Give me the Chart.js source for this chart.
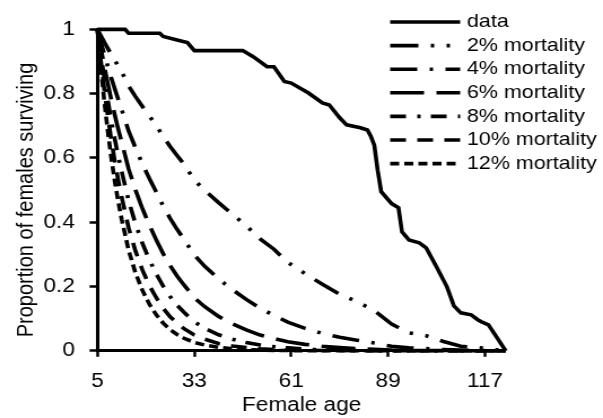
<!DOCTYPE html>
<html>
<head>
<meta charset="utf-8">
<script src="https://cdn.jsdelivr.net/npm/chart.js@4/dist/chart.umd.min.js"></script>
<style>
  html, body { margin: 0; padding: 0; background: #fff; }
</style>
</head>
<body>
<canvas id="sobrevivencia" width="534" height="418" style="display:block;width:603px;height:418px"></canvas>
<script>
const serieNomes = ["data", "2% mortality", "4% mortality", "6% mortality", "8% mortality", "10% mortality", "12% mortality"];

const xTicks = [5, 33, 61, 89, 117];
const yTicks = [0, 0.2, 0.4, 0.6, 0.8, 1];

const dataAges = [5, 13, 14, 23, 24, 28, 31, 33, 47, 50, 54, 56, 59, 61, 66, 70, 72, 75, 77, 81,
  83, 84, 85, 86, 87, 90, 92, 93, 95, 98, 100, 103, 106, 108, 110, 113, 115, 116, 118, 123];
const dataValues = [1, 1, 0.988, 0.988, 0.978, 0.967, 0.959, 0.934, 0.934, 0.915, 0.884, 0.884, 0.838, 0.833, 0.802, 0.771, 0.765, 0.725, 0.703, 0.694,
  0.687, 0.668, 0.64, 0.56, 0.495, 0.458, 0.445, 0.37, 0.345, 0.336, 0.32, 0.261, 0.199, 0.14, 0.118, 0.112, 0.096, 0.09, 0.081, 0];

const modelAges = [5, 6, 7, 8, 9, 10, 11, 12, 14, 16, 18, 20, 22, 24, 26, 28, 30, 33, 36, 40,
  44, 48, 52, 56, 60, 65, 70, 75, 80, 85, 90, 95, 100, 105, 110, 115, 123];
const mort2 = [1, 0.980, 0.960, 0.941, 0.922, 0.904, 0.886, 0.868, 0.824, 0.791, 0.760, 0.730, 0.701, 0.666, 0.636, 0.608, 0.581, 0.531, 0.499, 0.461,
  0.425, 0.389, 0.348, 0.316, 0.275, 0.240, 0.207, 0.176, 0.153, 0.125, 0.083, 0.056, 0.047, 0.029, 0.014, 0.010, 0];
const mort4 = [1, 0.960, 0.922, 0.885, 0.849, 0.815, 0.783, 0.751, 0.684, 0.631, 0.581, 0.536, 0.494, 0.450, 0.412, 0.378, 0.347, 0.298, 0.263, 0.224,
  0.190, 0.160, 0.132, 0.110, 0.089, 0.070, 0.054, 0.042, 0.033, 0.024, 0.014, 0.009, 0.007, 0.004, 0.002, 0.001, 0];
const mort6 = [1, 0.940, 0.884, 0.831, 0.781, 0.734, 0.690, 0.649, 0.566, 0.500, 0.442, 0.391, 0.345, 0.302, 0.265, 0.233, 0.205, 0.165, 0.137, 0.107,
  0.084, 0.065, 0.049, 0.038, 0.028, 0.020, 0.014, 0.010, 0.007, 0.005, 0.002, 0.001, 0.001, 0.001, 0, 0, 0];
const mort8 = [1, 0.920, 0.846, 0.779, 0.716, 0.659, 0.606, 0.558, 0.467, 0.395, 0.334, 0.283, 0.239, 0.201, 0.169, 0.142, 0.120, 0.090, 0.070, 0.050,
  0.036, 0.026, 0.018, 0.013, 0.009, 0.005, 0.003, 0.002, 0.001, 0.001, 0, 0, 0, 0, 0, 0, 0];
const mort10 = [1, 0.900, 0.810, 0.729, 0.656, 0.590, 0.531, 0.478, 0.383, 0.310, 0.251, 0.203, 0.165, 0.132, 0.106, 0.086, 0.069, 0.049, 0.036, 0.023,
  0.015, 0.010, 0.006, 0.004, 0.003, 0.002, 0.001, 0.001, 0, 0, 0, 0, 0, 0, 0, 0, 0];
const mort12 = [1, 0.880, 0.774, 0.682, 0.600, 0.528, 0.464, 0.409, 0.313, 0.242, 0.188, 0.145, 0.112, 0.086, 0.066, 0.051, 0.039, 0.026, 0.018, 0.011,
  0.006, 0.004, 0.002, 0.001, 0.001, 0, 0, 0, 0, 0, 0, 0, 0, 0, 0, 0, 0];

// tracejados de cada serie, na mesma ordem dos nomes
const tracos = [[], [25, 11, 3, 11, 3, 11], [24, 11, 3, 11], [30, 11], [14, 10, 3, 9], [14, 10], [8, 4.5]];

const fonte = "'Liberation Sans', Arial, sans-serif";
const tituloY = "Proportion of females surviving";

function pontos(xs, ys) {
  return xs.map(function (x, i) {
    return { x: x, y: ys[i] };
  });
}

function monta_serie(i, xs, ys) {
  return {
    label: serieNomes[i],
    data: pontos(xs, ys),
    borderColor: "#000",
    backgroundColor: "#000",
    borderWidth: 3.6,
    borderDash: tracos[i],
    borderCapStyle: "butt",
    pointRadius: 0,
    tension: 0,
    fill: false,
    clip: false,
  };
}

// legenda e titulo do eixo y desenhados a mao
const legenda = {
  id: "legenda",
  afterDraw: function (chart) {
    const c = chart.ctx;
    c.save();
    c.font = "19px " + fonte;
    c.fillStyle = "#000";
    c.strokeStyle = "#000";
    c.textBaseline = "middle";
    c.textAlign = "left";
    c.lineWidth = 3.6;
    c.lineCap = "butt";
    chart.data.datasets.forEach(function (ds, i) {
      const y = 22 + i * 23.6;
      c.setLineDash(ds.borderDash);
      c.beginPath();
      c.moveTo(345.5, y);
      c.lineTo(407.5, y);
      c.stroke();
      c.fillText(ds.label, 413.5, y);
    });
    c.setLineDash([]);
    c.translate(23, 200);
    c.rotate(-Math.PI / 2);
    c.textAlign = "center";
    c.font = "20px " + fonte;
    c.fillText(tituloY, 0, 0);
    c.restore();
  },
};

function renderiza_grafico() {
  const ctx = document.getElementById("sobrevivencia").getContext("2d");
  const myChart = new Chart(ctx, {
    type: "line",
    data: {
      datasets: [
        monta_serie(0, dataAges, dataValues),
        monta_serie(1, modelAges, mort2),
        monta_serie(2, modelAges, mort4),
        monta_serie(3, modelAges, mort6),
        monta_serie(4, modelAges, mort8),
        monta_serie(5, modelAges, mort10),
        monta_serie(6, modelAges, mort12),
      ],
    },
    options: {
      responsive: false,
      animation: false,
      layout: { padding: { top: 29.4, right: 86.1, bottom: 0, left: 0 } },
      plugins: {
        legend: { display: false },
        tooltip: { enabled: false },
      },
      scales: {
        x: {
          type: "linear",
          min: 5,
          max: 123,
          afterBuildTicks: function (s) {
            s.ticks = xTicks.map(function (v) { return { value: v }; });
          },
          afterFit: function (s) {
            s.height = 418 - 350.8;
          },
          border: { display: true, color: "#000", width: 3 },
          grid: { display: true, drawOnChartArea: false, drawTicks: true, tickLength: 6, tickWidth: 2.5, color: "#000" },
          ticks: { color: "#000", padding: 13, maxRotation: 0, font: { family: fonte, size: 20 } },
          title: { display: true, text: "Female age", color: "#000", padding: { top: 0, bottom: 1 }, font: { family: fonte, size: 20 } },
        },
        y: {
          min: 0,
          max: 1,
          afterBuildTicks: function (s) {
            s.ticks = yTicks.map(function (v) { return { value: v }; });
          },
          afterFit: function (s) {
            s.width = 86.3;
          },
          border: { display: true, color: "#000", width: 3 },
          grid: { display: true, drawOnChartArea: false, drawTicks: true, tickLength: 7, tickWidth: 2.5, color: "#000" },
          ticks: {
            color: "#000",
            padding: 13,
            font: { family: fonte, size: 20 },
            callback: function (v) { return String(Math.round(v * 10) / 10); },
          },
          title: { display: false },
        },
      },
    },
    plugins: [legenda],
  });
}

renderiza_grafico();
</script>
</body>
</html>
